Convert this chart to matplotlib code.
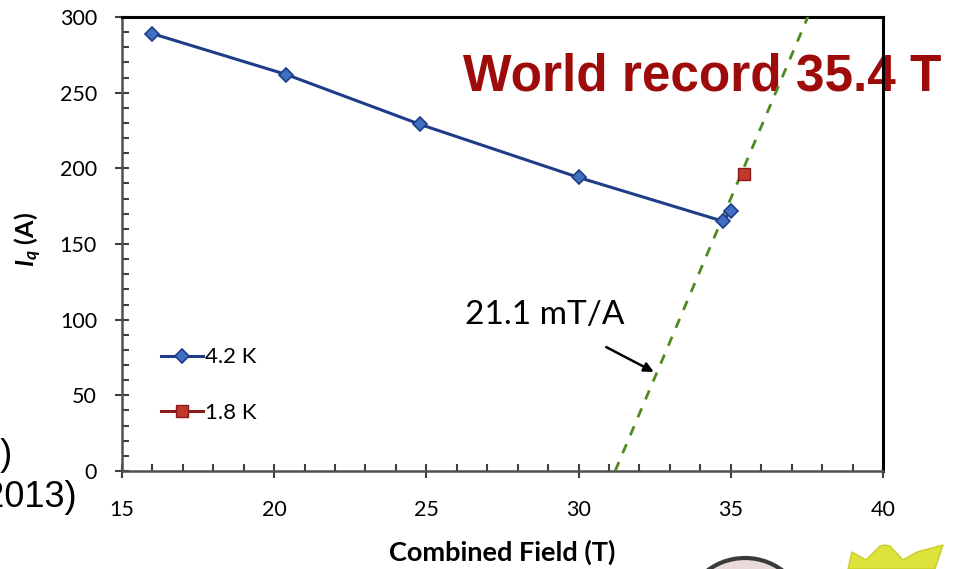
import matplotlib
matplotlib.use("Agg")
import matplotlib.pyplot as plt
import numpy as np
from matplotlib.ticker import MultipleLocator
from matplotlib.patches import Ellipse, Polygon

plt.rcParams["font.family"] = ["Lato", "DejaVu Sans"]
plt.rcParams["mathtext.fontset"] = "custom"
plt.rcParams["mathtext.it"] = "Lato:italic:bold"
plt.rcParams["mathtext.rm"] = "Lato:bold"

# Quench current vs. combined field
field_42K = [16.0, 20.4, 24.8, 30.0, 34.75, 35.0]
iq_42K = [289, 262, 229, 194, 165, 172]
field_18K = [35.45]
iq_18K = [196]

# Load line: B = B0 + slope * I
load_b0 = 31.2          # T
load_slope = 0.0211     # T/A  (21.1 mT/A)
load_current = [0, 320]

x_ticks = [15, 20, 25, 30, 35, 40]
y_ticks = [0, 50, 100, 150, 200, 250, 300]

fig = plt.figure(figsize=(9.75, 5.69), dpi=100)
ax = fig.add_axes([0.1251, 0.1722, 0.9056 - 0.1251, 0.9701 - 0.1722])
ax.set_zorder(1)
ax.patch.set_alpha(0)

ax.plot(field_42K, iq_42K, color="#1F3C88", lw=2.2, marker="D", ms=7.5,
        mfc="#3F6FC0", mec="#1F3C88", mew=1.2, label="4.2 K", zorder=4)
ax.plot(field_18K, iq_18K, color="#8B1A1A", lw=2.2, marker="s", ms=8,
        mfc="#C0392B", mec="#8B1A1A", mew=1.0, label="1.8 K", zorder=4)

lc = np.array(load_current, dtype=float)
ax.plot(load_b0 + load_slope * lc, lc, color="#4E8A1E", lw=2, ls=(0, (3.5, 3.5)),
        zorder=3)

ax.annotate("21.1 mT/A", xy=(32.47, 65.5), xytext=(28.9, 103),
            fontsize=24, ha="center", va="center",
            arrowprops=dict(arrowstyle="-|>", color="black", lw=1.8,
                            shrinkA=22, shrinkB=0, mutation_scale=14))

ax.set_xlim(15, 40)
ax.set_ylim(0, 300)
ax.set_xticks(x_ticks)
ax.set_yticks(y_ticks)
ax.xaxis.set_minor_locator(MultipleLocator(1))
ax.yaxis.set_minor_locator(MultipleLocator(10))
ax.tick_params(which="major", direction="inout", length=10, width=1.5,
               color="#404040", labelsize=15.5)
ax.tick_params(axis="y", which="major", pad=13)
ax.tick_params(axis="x", which="major", pad=16)
ax.tick_params(which="minor", direction="in", length=5, width=1.5, color="#404040")

for side in ("left", "bottom"):
    ax.spines[side].set_color("#505050")
    ax.spines[side].set_linewidth(1.8)
for side in ("top", "right"):
    ax.spines[side].set_color("black")
    ax.spines[side].set_linewidth(2.2)

ax.set_xlabel("Combined Field (T)", fontsize=19.5, fontweight="bold", labelpad=14)
ax.set_ylabel(r"$I_q$ (A)", fontsize=18, fontweight="bold")
ax.yaxis.set_label_coords(-0.102, 0.51)

leg = ax.legend(loc="lower left", bbox_to_anchor=(0.025, 0.062), frameon=False,
                fontsize=16, handlelength=1.9, handletextpad=0.1,
                labelspacing=1.6)

fig.text(0.475, 0.865, "World record 35.4 T", fontsize=37, fontweight="bold",
         color="#9E0B0B", family="Liberation Sans", ha="left", va="center",
         zorder=0.5)

# Citation fragments at the left edge
fig.text(0.013, 0.2, "5)", fontsize=26, family="Liberation Sans",
         ha="right", va="center")
fig.text(0.079, 0.126, "(2013)", fontsize=26, family="Liberation Sans",
         ha="right", va="center")

# Logo fragments along the bottom edge
W, H = 975.0, 569.0
seal = Ellipse((745 / W, (H - 615) / H), 120 / W, 114 / H,
               transform=fig.transFigure, facecolor="#EBDADA",
               edgecolor="#3A3A3A", lw=3, zorder=0.5)
fig.patches.append(seal)
crown_px = [(848, 569), (852, 552), (866, 560), (880, 546), (885, 545),
            (890, 546), (903, 560), (917, 552), (943, 545), (935, 569)]
crown = Polygon([(x / W, (H - y) / H) for x, y in crown_px], closed=True,
                transform=fig.transFigure, facecolor="#DDE33A",
                edgecolor="#C8CF2A", lw=1, zorder=0.5)
fig.patches.append(crown)

fig.savefig("out.png", dpi=100)
